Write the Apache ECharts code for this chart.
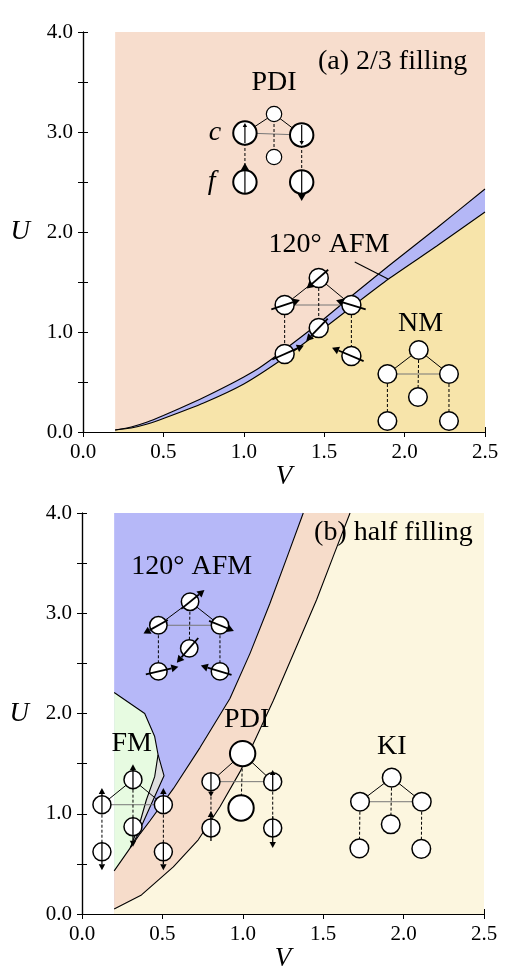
<!DOCTYPE html>
<html>
<head>
<meta charset="utf-8">
<script src="https://cdn.jsdelivr.net/npm/echarts@6/dist/echarts.min.js"></script>
<style>
html, body { margin: 0; padding: 0; background: #fff; }
#chart { width: 515px; height: 980px; }
</style>
</head>
<body>
<div id="chart"></div>
<script>
var FONT = '"Liberation Serif", "Times New Roman", serif';

// ---- (a) 2/3 filling : phase boundaries ----
var aPdiAfmV = [0.2, 0.3, 0.4, 0.5, 0.6, 0.75, 0.9, 1.0, 1.1, 1.25, 1.46, 1.67, 1.9, 2.2, 2.5];
var aPdiAfmU = [0.02, 0.05, 0.10, 0.165, 0.235, 0.345, 0.465, 0.55, 0.645, 0.82, 1.08, 1.36, 1.66, 2.04, 2.43];
var aAfmNmV = [0.2, 0.3, 0.4, 0.5, 0.75, 1.0, 1.25, 1.46, 1.67, 1.9, 2.2, 2.5];
var aAfmNmU = [0.02, 0.04, 0.08, 0.135, 0.29, 0.48, 0.74, 0.99, 1.25, 1.53, 1.86, 2.20];
var aPointerV = [1.69, 1.897];
var aPointerU = [1.70, 1.53];

// ---- (b) half filling : phase boundaries ----
var bAfmPdiV = [0.2, 0.30, 0.361, 0.423, 0.568, 0.734, 0.92, 1.045, 1.169, 1.273, 1.376];
var bAfmPdiU = [0.43, 0.66, 0.80, 0.93, 1.25, 1.66, 2.15, 2.60, 3.10, 3.55, 4.0];
var bPdiKiV = [0.2, 0.37, 0.568, 0.723, 0.858, 0.983, 1.086, 1.19, 1.335, 1.459, 1.563, 1.667];
var bPdiKiU = [0.05, 0.19, 0.47, 0.74, 1.07, 1.42, 1.77, 2.13, 2.67, 3.135, 3.57, 4.0];
var bFmTopV = [0.2, 0.39, 0.452, 0.473];
var bFmTopU = [2.21, 2.00, 1.77, 1.59];
var bGrayLeftV = [0.473, 0.452, 0.40, 0.359, 0.30];
var bGrayLeftU = [1.59, 1.37, 1.137, 0.905, 0.66];
var bGrayRightV = [0.473, 0.51, 0.34, 0.30];
var bGrayRightU = [1.59, 1.38, 0.77, 0.66];

// ---- lattice sketches: top c, left c, right c, middle, left f, right f ----
var aPdiSiteV = [1.188, 1.007, 1.36, 1.188, 1.007, 1.36];
var aPdiSiteU = [3.18, 2.99, 2.97, 2.75, 2.50, 2.50];
var aPdiSpin = [null, 90, 270, null, 90, 270];
var aAfmSiteV = [1.466, 1.254, 1.669, 1.466, 1.254, 1.669];
var aAfmSiteU = [1.54, 1.27, 1.27, 1.04, 0.78, 0.76];
var aAfmSpin = [221, 18, 163, 226, 24, 157];
var aNmSiteV = [2.088, 1.893, 2.276, 2.083, 1.893, 2.276];
var aNmSiteU = [0.82, 0.58, 0.58, 0.35, 0.11, 0.11];

var bAfmSiteV = [0.672, 0.475, 0.858, 0.667, 0.475, 0.858];
var bAfmSiteU = [3.115, 2.88, 2.88, 2.65, 2.42, 2.42];
var bAfmSpin = [39, 209, 338, 229, 13, 163];
var bFmSiteV = [0.317, 0.124, 0.506, 0.317, 0.124, 0.506];
var bFmSiteU = [1.34, 1.09, 1.09, 0.87, 0.62, 0.62];
var bFmSpin = [90, 90, 90, 270, 270, 270];
var bPdiSiteV = [0.999, 0.802, 1.186, 0.989, 0.802, 1.186];
var bPdiSiteU = [1.60, 1.32, 1.32, 1.057, 0.858, 0.858];
var bPdiSpin = [null, 270, 90, null, 90, 270];
var bKiSiteV = [1.926, 1.729, 2.113, 1.92, 1.725, 2.11];
var bKiSiteU = [1.36, 1.12, 1.12, 0.895, 0.655, 0.65];

// ---- texts ----
var aLabelText = ['(a) 2/3 filling', 'PDI', 'c', 'f', '120° AFM', 'NM'];
var aLabelV = [2.39, 1.188, 0.821, 0.80, 1.53, 2.10];
var aLabelU = [3.70, 3.49, 2.99, 2.50, 1.87, 1.087];
var bLabelText = ['(b) half filling', '120° AFM', 'FM', 'PDI', 'KI'];
var bLabelV = [2.43, 0.682, 0.309, 1.024, 1.926];
var bLabelU = [3.80, 3.46, 1.70, 1.935, 1.67];

// bond list shared by all sketches: s = solid, g = grey solid, d = dashed
var BONDS = [[0, 1, 's'], [0, 2, 's'], [1, 2, 'g'], [0, 3, 'd'], [1, 4, 'd'], [2, 5, 'd']];

function pairs(vs, us) {
    return vs.map(function (v, i) { return [v, us[i]]; });
}

var chart = echarts.init(document.getElementById('chart'));

function axesFor(gi) {
    var tick = { show: true, inside: true, length: 5, lineStyle: { color: '#000', width: 1 } };
    var line = { show: true, lineStyle: { color: '#000', width: 1.2 } };
    var lab = { color: '#000', fontFamily: FONT, fontSize: 21 };
    return {
        x: [
            {
                gridIndex: gi, type: 'value', min: 0, max: 2.5, interval: 0.5,
                axisLine: line, axisTick: tick, splitLine: { show: false },
                axisLabel: Object.assign({ margin: 10, showMinLabel: true, showMaxLabel: true,
                    formatter: function (v) { return v.toFixed(1); } }, lab),
                name: 'V', nameLocation: 'middle', nameGap: 30,
                nameTextStyle: { fontFamily: FONT, fontSize: 27, fontStyle: 'italic', color: '#000' }
            },
            {
                gridIndex: gi, type: 'value', position: 'top', min: 0, max: 2.5, interval: 0.5,
                axisLine: line, axisTick: tick, splitLine: { show: false }, axisLabel: { show: false }
            }
        ],
        y: [
            {
                gridIndex: gi, type: 'value', min: 0, max: 4, interval: 0.5,
                axisLine: line, axisTick: tick, splitLine: { show: false },
                axisLabel: Object.assign({ margin: 10, showMinLabel: true, showMaxLabel: true,
                    formatter: function (v) { return v % 1 === 0 ? v.toFixed(1) : ''; } }, lab),
                name: 'U', nameLocation: 'middle', nameGap: 53, nameRotate: 0,
                nameTextStyle: { fontFamily: FONT, fontSize: 27, fontStyle: 'italic', color: '#000' }
            },
            {
                gridIndex: gi, type: 'value', position: 'right', min: 0, max: 4, interval: 0.5,
                axisLine: line, axisTick: tick, splitLine: { show: false }, axisLabel: { show: false }
            }
        ]
    };
}

function fill(ax, data, color, lineW, smooth) {
    return {
        type: 'line', xAxisIndex: ax, yAxisIndex: ax, data: data, symbol: 'none',
        smooth: smooth || false, silent: true, z: 2,
        lineStyle: { color: '#000', width: lineW },
        areaStyle: { color: color, opacity: 1 }
    };
}

function edge(ax, data) {
    return {
        type: 'line', xAxisIndex: ax, yAxisIndex: ax, data: data, symbol: 'none',
        smooth: false, silent: true, z: 4,
        lineStyle: { color: '#000', width: 1.1 }
    };
}

function polygon(ax, vs, us, color) {
    return {
        type: 'custom', xAxisIndex: ax, yAxisIndex: ax, data: [0], silent: true, z: 3,
        renderItem: function (params, api) {
            return {
                type: 'polygon',
                shape: { points: vs.map(function (v, i) { return api.coord([v, us[i]]); }) },
                style: { fill: color }
            };
        }
    };
}

function sketch(ax, sv, su, spin, st) {
    return {
        type: 'custom', xAxisIndex: ax, yAxisIndex: ax, data: [0], silent: true, z: 5,
        renderItem: function (params, api) {
            var p = sv.map(function (v, i) { return api.coord([v, su[i]]); });
            var kids = [];
            BONDS.forEach(function (b) {
                kids.push({
                    type: 'line',
                    shape: { x1: p[b[0]][0], y1: p[b[0]][1], x2: p[b[1]][0], y2: p[b[1]][1] },
                    style: { stroke: b[2] === 'g' ? '#777' : '#000', lineWidth: 1,
                        lineDash: b[2] === 'd' ? [3, 2] : null }
                });
            });
            p.forEach(function (c, i) {
                kids.push({
                    type: 'circle', shape: { cx: c[0], cy: c[1], r: st.r[i] },
                    style: { fill: '#fff', stroke: '#000', lineWidth: st.lw[i] }
                });
            });
            if (spin) {
                spin.forEach(function (a, i) {
                    if (a === null) return;
                    var c = p[i], t = a * Math.PI / 180;
                    var ux = Math.cos(t), uy = -Math.sin(t);
                    var h = st.len[i][0], tl = st.len[i][1];
                    var hl = st.head[i][0], hw = st.head[i][1];
                    var hx = c[0] + ux * h, hy = c[1] + uy * h;
                    var bx = hx - ux * hl, by = hy - uy * hl;
                    kids.push({
                        type: 'line',
                        shape: { x1: c[0] - ux * tl, y1: c[1] - uy * tl, x2: bx, y2: by },
                        style: { stroke: '#000', lineWidth: st.aw }
                    });
                    kids.push({
                        type: 'polygon',
                        shape: { points: [[hx, hy], [bx - uy * hw, by + ux * hw], [bx + uy * hw, by - ux * hw]] },
                        style: { fill: '#000' }
                    });
                });
            }
            return { type: 'group', children: kids };
        }
    };
}

function labels(ax, texts, vs, us, fmt) {
    return {
        type: 'custom', xAxisIndex: ax, yAxisIndex: ax, silent: true, z: 8,
        data: texts.map(function (t, i) { return [vs[i], us[i], i]; }),
        renderItem: function (params, api) {
            var i = api.value(2);
            var c = api.coord([api.value(0), api.value(1)]);
            var f = fmt[i] || {};
            var align = f.align || 'center';
            return {
                type: 'text', x: c[0], y: c[1],
                style: {
                    text: texts[i], fill: '#000',
                    font: (f.italic ? 'italic ' : '') + '28px ' + FONT,
                    align: align, textAlign: align, verticalAlign: 'middle', textVerticalAlign: 'middle'
                }
            };
        }
    };
}

function same(n, v) { var a = []; for (var i = 0; i < n; i++) a.push(v); return a; }

var stPdiA = {
    r: [7.7, 11.7, 11.7, 7.7, 11.7, 11.7], lw: [1.2, 2, 2, 1.2, 2, 2], aw: 1.2,
    len: [[0, 0], [10, 10], [10, 10], [0, 0], [19, 11.5], [19, 11.5]],
    head: [[0, 0], [4, 2.2], [4, 2.2], [0, 0], [7, 4], [7, 4]]
};
var stAfmA = {
    r: same(6, 9.5), lw: same(6, 1.5), aw: 1.8,
    len: [[16, 12.5], [16, 14], [16, 15], [18, 13], [21, 13.5], [21, 13.3]],
    head: same(6, [7, 4])
};
var stPlain = { r: same(6, 9.3), lw: same(6, 1.5) };
var stAfmB = {
    r: same(6, 8.7), lw: same(6, 1.5), aw: 1.8,
    len: [[18.5, 11.3], [17, 10.8], [15, 11.8], [19, 13.7], [20.5, 12.9], [20, 12.1]],
    head: same(6, [7, 4])
};
var stFmB = {
    r: same(6, 9), lw: same(6, 1.5), aw: 1.3,
    len: [[15.5, 10], [16.7, 9], [16.7, 9], [20, 10], [18.3, 10], [18.3, 10]],
    head: same(6, [6, 3.2])
};
var stPdiB = {
    r: [12.7, 9, 9, 12.7, 9, 9], lw: [2, 1.5, 1.5, 2, 1.5, 1.5], aw: 1.3,
    len: [[0, 0], [15, 9], [11.7, 9], [0, 0], [17, 13], [20, 11.7]],
    head: [[0, 0], [5, 2.8], [5, 2.8], [0, 0], [6, 3.2], [6, 3.2]]
};

var ax0 = axesFor(0), ax1 = axesFor(1);
// the filled areas close along the top frame at V = 2.5
var bAfmPdi = pairs(bAfmPdiV, bAfmPdiU);
var bPdiKi = pairs(bPdiKiV, bPdiKiU);

var option = {
    animation: false,
    backgroundColor: '#fff',
    grid: [
        { left: 83, top: 32, width: 402, height: 400 },
        { left: 82, top: 513, width: 402, height: 401 }
    ],
    xAxis: ax0.x.concat(ax1.x),
    yAxis: ax0.y.concat(ax1.y),
    series: [
        // (a)
        fill(0, [[0.2, 4], [2.5, 4]], '#f7ddcd', 0),
        fill(0, pairs(aPdiAfmV, aPdiAfmU), '#b4b7f6', 1.1, 0.2),
        fill(0, pairs(aAfmNmV, aAfmNmU), '#f7e4aa', 1.1, 0.2),
        edge(0, pairs(aPointerV, aPointerU)),
        sketch(0, aPdiSiteV, aPdiSiteU, aPdiSpin, stPdiA),
        sketch(0, aAfmSiteV, aAfmSiteU, aAfmSpin, stAfmA),
        sketch(0, aNmSiteV, aNmSiteU, null, stPlain),
        labels(0, aLabelText, aLabelV, aLabelU, [{ align: 'right' }, null, { italic: true }, { italic: true }]),
        // (b)
        fill(2, [[0.2, 4], [2.5, 4]], '#b6b8f8', 0),
        fill(2, bAfmPdi.concat([[2.5, 4]]), '#f6dcca', 0),
        fill(2, bPdiKi.concat([[2.5, 4]]), '#fcf6df', 0),
        polygon(2, [0.2].concat(bGrayLeftV.slice().reverse(), bFmTopV.slice().reverse()),
            [0.43].concat(bGrayLeftU.slice().reverse(), bFmTopU.slice().reverse()), '#e7fbe1'),
        polygon(2, bGrayLeftV.concat(bGrayRightV.slice(1, -1).reverse()),
            bGrayLeftU.concat(bGrayRightU.slice(1, -1).reverse()), '#dedede'),
        edge(2, bAfmPdi),
        edge(2, bPdiKi),
        edge(2, pairs(bFmTopV, bFmTopU)),
        edge(2, pairs(bGrayLeftV, bGrayLeftU)),
        edge(2, pairs(bGrayRightV, bGrayRightU)),
        sketch(2, bAfmSiteV, bAfmSiteU, bAfmSpin, stAfmB),
        sketch(2, bFmSiteV, bFmSiteU, bFmSpin, stFmB),
        sketch(2, bPdiSiteV, bPdiSiteU, bPdiSpin, stPdiB),
        sketch(2, bKiSiteV, bKiSiteU, null, stPlain),
        labels(2, bLabelText, bLabelV, bLabelU, [{ align: 'right' }])
    ]
};
chart.setOption(option);
</script>
</body>
</html>
